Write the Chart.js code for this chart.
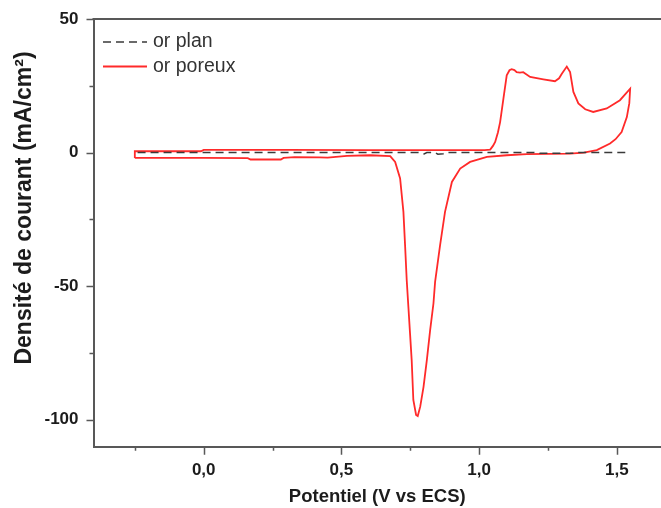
<!DOCTYPE html>
<html lang="fr">
<head>
<meta charset="utf-8">
<title>Voltampérométrie cyclique - or plan / or poreux</title>
<script src="https://cdn.jsdelivr.net/npm/chart.js@4.4.1/dist/chart.umd.min.js"></script>
<style>
  html, body { margin: 0; padding: 0; background: #fff; }
  #box { width: 661px; height: 508px; }
</style>
</head>
<body>
<div id="box"><canvas id="cv" width="661" height="508"></canvas></div>
<script>
// données (potentiel en V vs ECS, densité de courant en mA/cm²)
const planPotentiel = [-0.24, 0.78, 0.80, 0.81, 0.84, 0.85, 0.87, 0.88, 1.20, 1.22, 1.35, 1.36, 1.545];
const planCourant   = [0, 0, -0.5, 0, 0, -0.6, -0.4, 0, 0, -0.3, -0.3, 0, 0];

const poreuxPotentiel = [
  -0.25, -0.25, -0.01, 0.0, 0.3, 0.6, 0.9, 1.02, 1.04, 1.05, 1.058, 1.068, 1.076, 1.088, 1.10,
  1.11, 1.118, 1.128, 1.136, 1.148, 1.16, 1.185, 1.233, 1.275, 1.29, 1.30, 1.318, 1.33, 1.342,
  1.36, 1.385, 1.414, 1.463, 1.511, 1.548,
  1.545, 1.536, 1.517, 1.495, 1.475, 1.427, 1.38, 1.33, 1.173, 1.10, 1.028, 0.967, 0.931, 0.901,
  0.876, 0.858, 0.84, 0.834, 0.822, 0.81, 0.798, 0.786, 0.777, 0.771, 0.761, 0.755, 0.749, 0.743,
  0.737, 0.731, 0.725, 0.713, 0.695, 0.677, 0.604, 0.52, 0.45, 0.42, 0.33, 0.29, 0.28, 0.17, 0.16,
  0.0, -0.25
];
const poreuxCourant = [
  -2.0, 0.5, 0.5, 1.0, 1.0, 0.9, 0.9, 0.9, 1.1, 2.5, 4.0, 7.5, 11.4, 20.2, 28.9,
  30.8, 31.2, 30.9, 30.1, 29.9, 30.1, 28.3, 27.4, 26.7, 27.8, 29.5, 32.2, 30.1, 22.7,
  18.4, 16.2, 15.2, 16.5, 19.6, 23.9,
  18.5, 13.3, 7.7, 5.0, 3.4, 0.9, 0.0, -0.4, -0.6, -1.0, -1.6, -3.5, -6.0, -11.0,
  -22.2, -34.7, -48.4, -56.5, -66.5, -77.7, -87.7, -95.1, -98.6, -98.2, -92.6, -77.7, -67.7, -57.7,
  -47.8, -34.7, -22.2, -9.7, -3.5, -1.3, -1.0, -1.2, -1.9, -1.8, -1.7, -2.0, -2.6, -2.6, -2.1,
  -2.0, -2.0
];

const xTicks = [-0.25, 0, 0.25, 0.5, 0.75, 1, 1.25, 1.5];
const xTickLabels = ['', '0,0', '', '0,5', '', '1,0', '', '1,5'];
const yTicks = [-100, -75, -50, -25, 0, 25, 50];
const yTickLabels = ['-100', '', '-50', '', '0', '', '50'];

const FONT = '"Liberation Sans", Arial, sans-serif';
const AXIS_COLOR = '#585858';
const TEXT_COLOR = '#1c1c1c';

function toPoints(xs, ys) {
  return xs.map((x, i) => ({ x: x, y: ys[i] }));
}

// cadre du haut + graduations extérieures (majeures longues, mineures courtes)
const cadreEtTicks = {
  id: 'cadreEtTicks',
  afterDraw(chart) {
    const ctx = chart.ctx, a = chart.chartArea;
    const sx = chart.scales.x, sy = chart.scales.y;
    ctx.save();
    ctx.strokeStyle = AXIS_COLOR;
    ctx.lineWidth = 2;
    ctx.beginPath();
    ctx.moveTo(a.left - 1, a.top);
    ctx.lineTo(a.right, a.top);
    ctx.stroke();
    ctx.lineWidth = 1.5;
    ctx.beginPath();
    sx.ticks.forEach((t, i) => {
      const px = Math.round(sx.getPixelForValue(t.value)) + 0.5;
      const len = xTickLabels[i] ? 8 : 4;
      ctx.moveTo(px, a.bottom);
      ctx.lineTo(px, a.bottom + len);
    });
    sy.ticks.forEach((t, i) => {
      const py = Math.round(sy.getPixelForValue(t.value)) + 0.5;
      const len = yTickLabels[i] ? 7 : 4;
      ctx.moveTo(a.left, py);
      ctx.lineTo(a.left - len, py);
    });
    ctx.stroke();

    // titre de l'axe vertical
    ctx.fillStyle = TEXT_COLOR;
    ctx.font = 'bold 23px ' + FONT;
    ctx.textAlign = 'center';
    ctx.textBaseline = 'middle';
    ctx.translate(25, 208);
    ctx.rotate(-Math.PI / 2);
    ctx.fillText('Densité de courant (mA/cm²)', 0, 0);
    ctx.restore();
  }
};

// légende dans le coin supérieur gauche
const legendeInterne = {
  id: 'legendeInterne',
  afterDraw(chart) {
    const ctx = chart.ctx;
    ctx.save();
    chart.data.datasets.forEach((ds, i) => {
      const y = 42 + i * 24.5;
      ctx.strokeStyle = ds.borderColor;
      ctx.lineWidth = ds.borderWidth;
      ctx.setLineDash(ds.borderDash || []);
      ctx.beginPath();
      ctx.moveTo(103, y);
      ctx.lineTo(147, y);
      ctx.stroke();
      ctx.setLineDash([]);
      ctx.fillStyle = '#333';
      ctx.font = '19.5px ' + FONT;
      ctx.textAlign = 'left';
      ctx.textBaseline = 'middle';
      ctx.fillText(ds.label, 153, y);
    });
    ctx.restore();
  }
};

const ctx = document.getElementById('cv').getContext('2d');
new Chart(ctx, {
  type: 'scatter',
  data: {
    datasets: [
      {
        label: 'or plan',
        data: toPoints(planPotentiel, planCourant),
        showLine: true,
        borderColor: '#3a3a3a',
        borderWidth: 1.5,
        borderDash: [8, 5],
        pointRadius: 0,
        tension: 0
      },
      {
        label: 'or poreux',
        data: toPoints(poreuxPotentiel, poreuxCourant),
        showLine: true,
        borderColor: '#ff2a2a',
        borderWidth: 1.8,
        pointRadius: 0,
        tension: 0
      }
    ]
  },
  options: {
    responsive: false,
    animation: false,
    devicePixelRatio: 1,
    layout: { padding: { top: 19, left: 0, right: 0, bottom: 0 } },
    plugins: {
      legend: { display: false },
      tooltip: { enabled: false }
    },
    scales: {
      x: {
        type: 'linear',
        min: -0.4,
        max: 1.66,
        afterBuildTicks: s => { s.ticks = xTicks.map(v => ({ value: v })); },
        afterFit: s => { s.height = 61.3; s.paddingLeft = 0; s.paddingRight = 0; },
        grid: { display: false, drawTicks: false },
        border: { display: true, color: AXIS_COLOR, width: 2 },
        ticks: {
          autoSkip: false,
          maxRotation: 0,
          padding: 13,
          color: TEXT_COLOR,
          font: { family: FONT, size: 17, weight: 'bold' },
          callback: (v, i) => xTickLabels[i]
        },
        title: {
          display: true,
          text: 'Potentiel (V vs ECS)',
          color: TEXT_COLOR,
          font: { family: FONT, size: 18.5, weight: 'bold' },
          padding: { top: 0, bottom: 0 }
        }
      },
      y: {
        type: 'linear',
        min: -110.1,
        max: 50,
        afterBuildTicks: s => { s.ticks = yTicks.map(v => ({ value: v })); },
        afterFit: s => { s.width = 93.5; s.paddingTop = 0; s.paddingBottom = 0; },
        grid: { display: false, drawTicks: false },
        border: { display: true, color: AXIS_COLOR, width: 2 },
        ticks: {
          padding: 15,
          color: TEXT_COLOR,
          font: { family: FONT, size: 17, weight: 'bold' },
          callback: (v, i) => yTickLabels[i]
        }
      }
    }
  },
  plugins: [cadreEtTicks, legendeInterne]
});
</script>
</body>
</html>
